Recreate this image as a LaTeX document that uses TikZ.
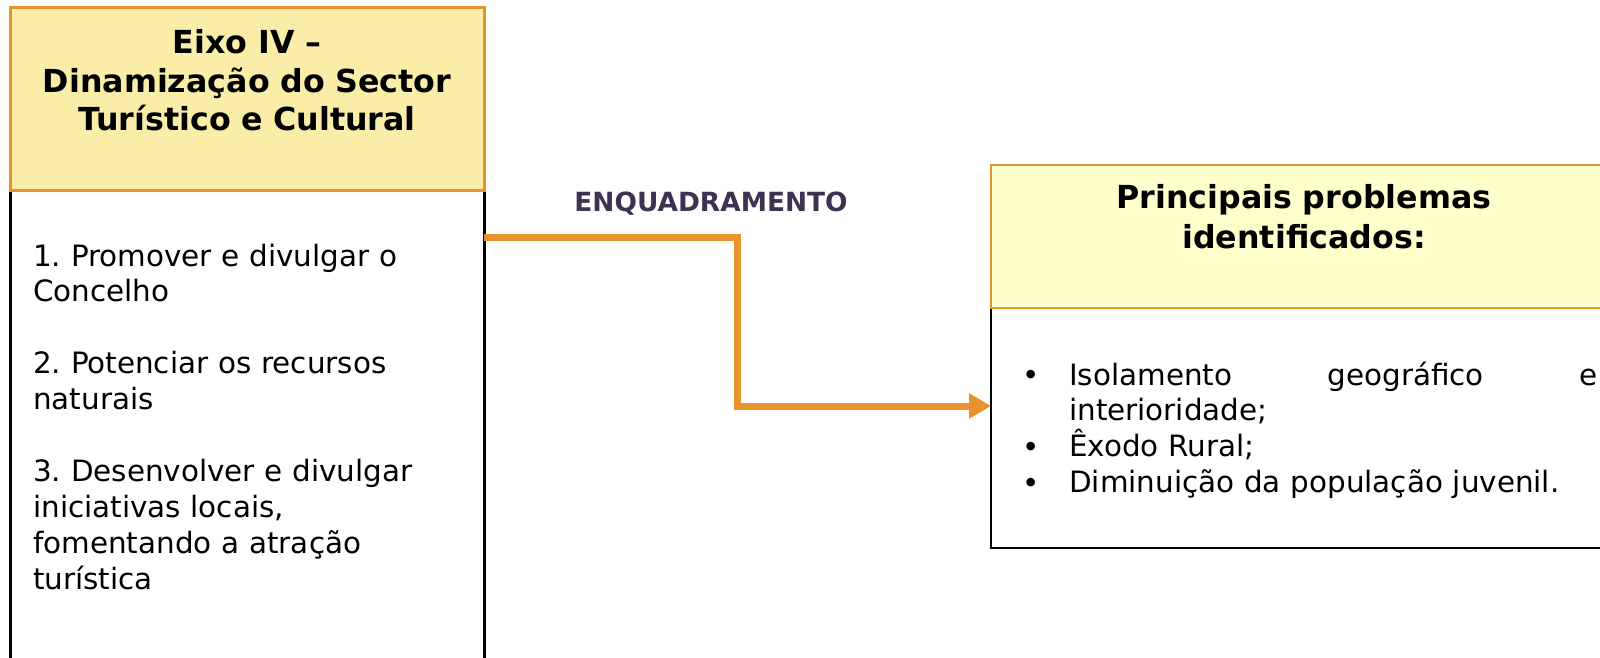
\documentclass[tikz,border=0pt]{standalone}
\usepackage{fontspec}
\setmainfont{DejaVu Sans}
\usetikzlibrary{arrows.meta}
\frenchspacing
\definecolor{orng}{HTML}{E9912C}
\definecolor{hdrL}{HTML}{FAEDA8}
\definecolor{hdrR}{HTML}{FFFFCC}
\definecolor{purp}{HTML}{3F3151}
\tikzset{
  boxL/.style={draw=black, line width=3pt, inner sep=0pt},
  hdrLbox/.style={draw=orng, fill=hdrL, line width=3pt, inner sep=0pt},
  boxR/.style={draw=black, line width=1.6pt, inner sep=0pt},
  hdrRbox/.style={draw=orng, fill=hdrR, line width=1.4pt, inner sep=0pt},
  title/.style={inner sep=0pt, anchor=base, align=center, font=\bfseries\fontsize{31.7}{38.5}\selectfont},
  body/.style={inner sep=0pt, anchor=base west, align=left, font=\fontsize{29.4}{35.9}\selectfont},
  bul/.style={inner sep=0pt, anchor=base, font=\fontsize{29.4}{35.9}\selectfont},
  conn/.style={draw=orng, line width=7pt, -{Triangle[length=22pt,width=24pt]}},
}
\begin{document}
\begin{tikzpicture}[x=1pt,y=-1pt]
\useasboundingbox (0,0) rectangle (1600,658);
\clip (0,0) rectangle (1600,658);
% left column
\node[boxL, minimum width=474pt, minimum height=482pt] (lbody) at (247,431) {};
\node[hdrLbox, minimum width=474pt, minimum height=182pt] (lhead) at (247,99) {};
\node[title, text width=460pt] (ltitle) at (247,54) {Eixo IV –\\Dinamização do Sector\\Turístico e Cultural};
\node[body, text width=445pt] (ltext) at (33,266) {1. Promover e divulgar o\\Concelho\\[35.9pt]2. Potenciar os recursos\\naturais\\[35.9pt]3. Desenvolver e divulgar\\iniciativas locais,\\fomentando a atração\\turística};
% right column
\node[boxR, minimum width=626pt, minimum height=240pt] (rbody) at (1304,428) {};
\node[hdrRbox, minimum width=626pt, minimum height=143pt] (rhead) at (1304,236.5) {};
\node[title, text width=600pt, font=\bfseries\fontsize{31.7}{40}\selectfont] (rtitle) at (1304,208) {Principais problemas\\identificados:};
\node[bul] (b1) at (1031,385) {•};
\node[bul] (b2) at (1031,457) {•};
\node[bul] (b3) at (1031,493) {•};
\node[body, text width=528pt] (rtext) at (1069,385) {Isolamento\hfill geográfico\hfill e\\interioridade;\\Êxodo Rural;\\Diminuição da população juvenil.};
% connector
\node[inner sep=0pt, anchor=base, text=purp, font=\bfseries\fontsize{26.4}{30}\selectfont] (enq) at (711,211) {ENQUADRAMENTO};
\coordinate (a0) at (484,237);
\coordinate (k1) at (737,237);
\coordinate (k2) at (737,406);
\coordinate (a1) at (991,406);
\draw[conn] (a0) -- (k1) -- (k2) -- (a1);
\end{tikzpicture}
\end{document}
